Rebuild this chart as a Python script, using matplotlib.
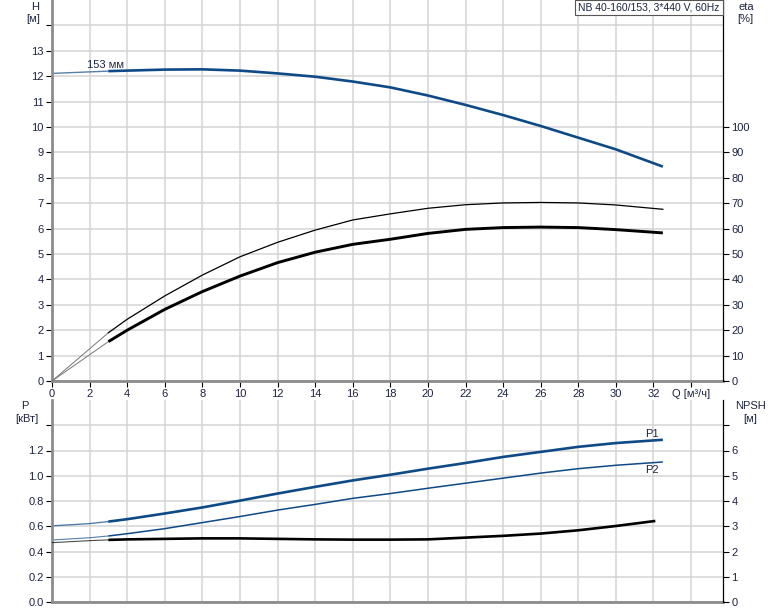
"""
Pump curve chart: NB 40-160/153, 3*440 V, 60Hz.
Top panel: head H and efficiency eta; bottom panel: power P1/P2 and NPSH.
"""

import matplotlib

matplotlib.use("Agg")
import matplotlib.pyplot as plt
from matplotlib.patches import Rectangle

plt.rcParams["font.family"] = ["Liberation Sans", "DejaVu Sans"]
plt.rcParams["lines.solid_joinstyle"] = "round"

# --- data -------------------------------------------------------------------
q = [0, 2, 3, 4, 6, 8, 10, 12, 14, 16, 18, 20, 22, 24, 26, 28, 30, 32.5]
head = [12.11, 12.17, 12.20, 12.22, 12.26, 12.27, 12.22, 12.11, 11.98, 11.79,
        11.56, 11.24, 10.87, 10.47, 10.04, 9.58, 9.12, 8.44]

eta_q = [0, 3, 4, 6, 8, 10, 12, 14, 16, 18, 20, 22, 24, 26, 28, 30, 32.5]
eta_thin = [0, 19.0, 24.3, 33.5, 41.7, 48.9, 54.6, 59.4, 63.4, 65.8, 68.0,
            69.4, 70.1, 70.3, 70.1, 69.3, 67.6]
eta_thick = [0, 15.5, 20.0, 28.2, 35.2, 41.3, 46.6, 50.7, 53.8, 55.8, 58.1,
             59.7, 60.4, 60.6, 60.4, 59.6, 58.3]

p1 = [0.603, 0.621, 0.637, 0.656, 0.701, 0.749, 0.803, 0.859, 0.912, 0.963,
      1.008, 1.056, 1.101, 1.149, 1.189, 1.229, 1.259, 1.285]
p2 = [0.491, 0.509, 0.523, 0.541, 0.581, 0.629, 0.677, 0.728, 0.773, 0.821,
      0.859, 0.901, 0.941, 0.981, 1.021, 1.056, 1.083, 1.109]

npsh_q = [0, 2, 3, 4, 6, 8, 10, 12, 14, 16, 18, 20, 22, 24, 26, 28, 30, 32.1]
npsh = [2.35, 2.43, 2.46, 2.48, 2.50, 2.52, 2.52, 2.50, 2.48, 2.47, 2.47,
        2.48, 2.55, 2.62, 2.71, 2.84, 3.01, 3.21]

x_ticks = list(range(0, 36, 2))
x_labels = [str(v) for v in x_ticks[:-1]] + ["Q [м³/ч]"]

BLUE = "#0d4a86"
GRID = "#d4d4d4"
TXT = "#1c2340"
FS = 8
Q_START = 3  # duty range starts here, thin extension before


def split(xs, ys, start=Q_START):
    i = xs.index(start)
    return (xs[: i + 1], ys[: i + 1]), (xs[i:], ys[i:])


def style_axes(ax, right):
    ax.set_xlim(0, 35.7)
    ax.grid(True, color=GRID, linewidth=1.1)
    ax.set_axisbelow(True)
    ax.spines["top"].set_visible(False)
    ax.spines["right"].set_visible(False)
    ax.spines["left"].set_color("#8c8c8c")
    ax.spines["left"].set_linewidth(2.0)
    ax.spines["bottom"].set_color("#8c8c8c")
    ax.spines["bottom"].set_linewidth(2.0)
    ax.tick_params(axis="both", labelsize=FS, labelcolor=TXT, length=4,
                   width=0.8, color="black", pad=2)
    right.spines["top"].set_visible(False)
    right.spines["left"].set_visible(False)
    right.spines["bottom"].set_visible(False)
    right.spines["right"].set_color("black")
    right.spines["right"].set_linewidth(0.9)
    right.tick_params(axis="y", labelsize=FS, labelcolor=TXT, length=4,
                      width=0.8, color="black", pad=2)


fig = plt.figure(figsize=(7.74, 6.11), dpi=100)
W, H = 774, 611
ax_top = fig.add_axes([52 / W, 1 - 381 / H, 671 / W, 381 / H])
ax_eta = ax_top.twinx()
ax_bot = fig.add_axes([52 / W, 1 - 602 / H, 671 / W, 202 / H])
ax_npsh = ax_bot.twinx()

# --- top panel ---------------------------------------------------------------
style_axes(ax_top, ax_eta)
ax_top.set_ylim(0, 15)
ax_top.set_yticks(range(0, 15))
ax_top.set_yticklabels([str(v) for v in range(0, 14)] + [""])
ax_top.set_xticks(x_ticks)
ax_top.set_xticklabels(x_labels)

ax_eta.set_ylim(0, 150)
ax_eta.set_yticks(range(0, 101, 10))

ext, main = split(q, head)
ax_top.plot(*ext, color=BLUE, linewidth=1.0, alpha=0.7)
ax_top.plot(*main, color=BLUE, linewidth=1.9, solid_capstyle="butt")
ax_top.text(1.86, 12.25, "153 мм", fontsize=FS, color=TXT, va="bottom")

ext, main = split(eta_q, eta_thin)
ax_eta.plot(*ext, color="#777777", linewidth=0.7)
ax_eta.plot(*main, color="black", linewidth=0.9)
ext, main = split(eta_q, eta_thick)
ax_eta.plot(*ext, color="#777777", linewidth=0.7)
ax_eta.plot(*main, color="black", linewidth=2.1, solid_capstyle="butt")

# --- bottom panel ------------------------------------------------------------
style_axes(ax_bot, ax_npsh)
ax_bot.set_ylim(0, 1.6)
ax_bot.set_yticks([0.0, 0.2, 0.4, 0.6, 0.8, 1.0, 1.2, 1.4])
ax_bot.set_yticklabels(["0.0", "0.2", "0.4", "0.6", "0.8", "1.0", "1.2", ""])
ax_bot.set_xticks(x_ticks)
ax_bot.tick_params(axis="x", length=0, labelbottom=False)

ax_npsh.set_ylim(0, 8)
ax_npsh.set_yticks(range(0, 8))
ax_npsh.set_yticklabels([str(v) for v in range(0, 7)] + [""])

ext, main = split(q, p1)
ax_bot.plot(*ext, color=BLUE, linewidth=1.0, alpha=0.7)
ax_bot.plot(*main, color=BLUE, linewidth=1.9, solid_capstyle="butt")
ext, main = split(q, p2)
ax_bot.plot(*ext, color=BLUE, linewidth=0.8, alpha=0.7)
ax_bot.plot(*main, color=BLUE, linewidth=1.1, solid_capstyle="butt")
ax_bot.text(32.3, 1.328, "P1", fontsize=FS, color=TXT, ha="right", va="center")
ax_bot.text(32.3, 1.044, "P2", fontsize=FS, color=TXT, ha="right", va="center")

ext, main = split(npsh_q, npsh)
ax_npsh.plot(*ext, color="black", linewidth=0.8, alpha=0.7)
ax_npsh.plot(*main, color="black", linewidth=1.9, solid_capstyle="butt")

# --- axis captions -----------------------------------------------------------
def caption(x_px, y_px, s):
    fig.text(x_px / W, 1 - y_px / H, s, fontsize=FS, color=TXT,
             ha="center", va="center")


caption(35, 7, "H")
caption(33, 19, "[м]")
caption(746, 7, "eta")
caption(745, 19, "[%]")
caption(25, 406, "P")
caption(27, 419, "[кВт]")
caption(751, 406, "NPSH")
caption(750, 419, "[м]")

# title box in the top right corner
fig.add_artist(Rectangle((575 / W, 1 - 15 / H), 148 / W, 15 / H,
                         transform=fig.transFigure, facecolor="white",
                         edgecolor="#555555", linewidth=0.8))
fig.text(649 / W, 1 - 7.5 / H, "NB 40-160/153, 3*440 V, 60Hz", fontsize=7.5,
         color=TXT, ha="center", va="center")

fig.savefig("out.png", dpi=100)
